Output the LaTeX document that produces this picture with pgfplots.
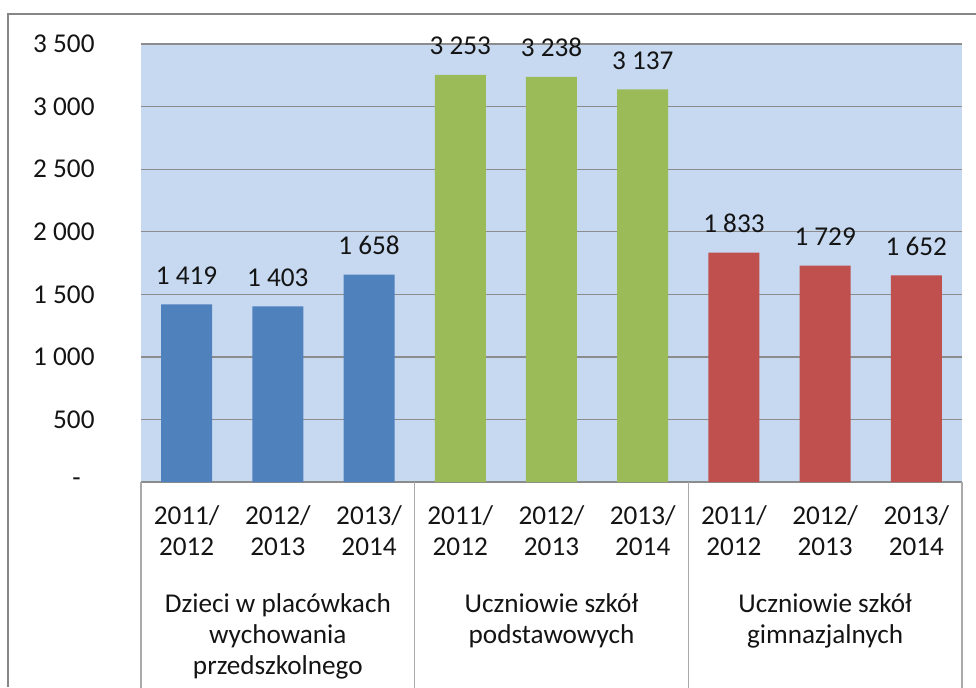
\documentclass[border=0pt]{standalone}
\usepackage{fontspec}
\setmainfont{Carlito}
\usepackage{pgfplots}
\pgfplotsset{compat=1.18}
\definecolor{plotbg}{RGB}{198,217,241}
\definecolor{barblue}{RGB}{79,129,189}
\definecolor{bargreen}{RGB}{155,187,89}
\definecolor{barred}{RGB}{192,80,77}
\definecolor{gridgray}{RGB}{140,140,140}
\definecolor{framegray}{RGB}{134,134,134}
\definecolor{tablegray}{RGB}{170,170,170}
\definecolor{txt}{RGB}{20,20,20}

\begin{document}
\begin{tikzpicture}[font=\fontsize{13.6}{15.5}\selectfont, text=txt]
\useasboundingbox (0,0) rectangle (488pt,343.5pt);
\draw[framegray, line width=1pt] (4pt,0) -- (4pt,336.5pt) -- (488pt,336.5pt);
\begin{axis}[at={(70.5pt,102.5pt)}, anchor=south west,
  scale only axis, width=410.5pt, height=219pt,
  ybar, bar width=25.5pt, bar shift=0pt,
  xmin=-0.5, xmax=8.5, ymin=0, ymax=3500,
  xtick={0,...,8},
  xticklabels={{2011/\\2012},{2012/\\2013},{2013/\\2014},
               {2011/\\2012},{2012/\\2013},{2013/\\2014},
               {2011/\\2012},{2012/\\2013},{2013/\\2014}},
  xticklabel style={align=center, yshift=-8.5pt},
  ytick={0,500,...,3500},
  yticklabels={{-\hphantom{0}},500,1 000,1 500,2 000,2 500,3 000,3 500},
  yticklabel style={xshift=-19.7pt},
  major tick length=0pt,
  ymajorgrids, grid style={gridgray, line width=0.65pt},
  separate axis lines,
  x axis line style={gridgray, line width=0.65pt},
  y axis line style={draw=none},
  axis background/.style={fill=plotbg},
  point meta=explicit symbolic,
  nodes near coords,
  every node near coord/.append style={yshift=6.5pt},
  clip=false]
\addplot[fill=barblue, draw=none] coordinates {(0,1419) [1 419] (1,1403) [1 403] (2,1658) [1 658]};
\addplot[fill=bargreen, draw=none] coordinates {(3,3253) [3 253] (4,3238) [3 238] (5,3137) [3 137]};
\addplot[fill=barred, draw=none] coordinates {(6,1833) [1 833] (7,1729) [1 729] (8,1652) [1 652]};
\draw[tablegray, line width=0.6pt] (axis cs:-0.5,0) -- (axis cs:-0.5,-1700);
\draw[tablegray, line width=0.6pt] (axis cs:2.5,0) -- (axis cs:2.5,-1700);
\draw[tablegray, line width=0.6pt] (axis cs:5.5,0) -- (axis cs:5.5,-1700);
\draw[tablegray, line width=0.6pt] (axis cs:8.5,0) -- (axis cs:8.5,-1700);
\node[anchor=north, align=center, yshift=-52.5pt] at (axis cs:1,0) {Dzieci w placówkach\\wychowania\\przedszkolnego};
\node[anchor=north, align=center, yshift=-52.5pt] at (axis cs:4,0) {Uczniowie szkół\\podstawowych};
\node[anchor=north, align=center, yshift=-52.5pt] at (axis cs:7,0) {Uczniowie szkół\\gimnazjalnych};
\end{axis}
\end{tikzpicture}
\end{document}
